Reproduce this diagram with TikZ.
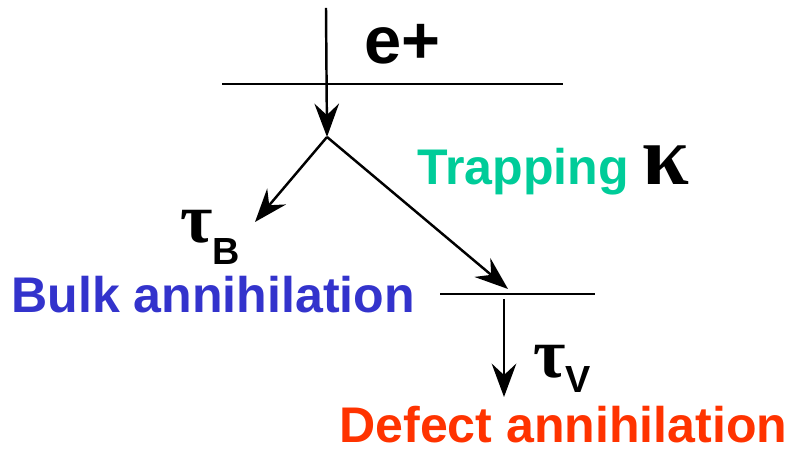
\documentclass[tikz,border=0pt]{standalone}
\usepackage{fontspec}
\setmainfont{Liberation Sans}
\newfontfamily\greekfont{Liberation Serif}
\usepackage{xcolor}
\usetikzlibrary{arrows.meta, positioning}

\definecolor{bulkblue}{RGB}{51,51,204}
\definecolor{defectred}{RGB}{255,51,0}
\definecolor{trapgreen}{RGB}{0,204,153}

\tikzset{
  lbl/.style={inner sep=0pt, anchor=base west, font=\fontsize{28.5}{34}\selectfont\bfseries},
  lvl/.style={line width=1.4pt},
  jump/.style={line width=1.4pt, -{Stealth[length=19pt, width=14pt, inset=6.5pt]}}
}
% tau with a lowered subscript
\newcommand{\lifetime}[2]{{\greekfont\fontsize{40}{44}\selectfont τ}\raisebox{-#2}{\fontsize{21.5}{24}\selectfont #1}}

\begin{document}
\begin{tikzpicture}
    \useasboundingbox (0,0) rectangle (15.92,8.98);
    % 1. Levels
    \coordinate (bulkL) at (4.44,7.30);
    \coordinate (bulkR) at (11.26,7.30);
    \coordinate (trapL) at (8.80,3.10);
    \coordinate (trapR) at (11.90,3.10);
    \draw[lvl] (bulkL) -- (bulkR);
    \draw[lvl] (trapL) -- (trapR);

    % 2. Positron path
    \coordinate (src) at (6.52,8.82);
    \coordinate (apex) at (6.54,6.24);
    \coordinate (bulkend) at (5.10,4.54);
    \coordinate (trapend) at (10.16,3.20);
    \coordinate (vstart) at (10.08,3.00);
    \coordinate (vend) at (10.08,1.04);
    \draw[jump] (src) -- (apex);
    \draw[jump] (apex) -- (bulkend);
    \draw[jump] (apex) -- (trapend);
    \draw[jump] (vstart) -- (vend);

    % 3. Labels
    \node[lbl, font=\fontsize{38}{44}\selectfont\bfseries] (eplus) at (7.28,7.70) {e+};
    \node[lbl] (trapping) at (8.34,5.28) {\textcolor{trapgreen}{Trapping} {\greekfont\fontsize{48}{52}\selectfont κ}};
    \node[lbl] (tauB) at (3.60,4.12) {\lifetime{B}{0.44cm}};
    \node[lbl, bulkblue] (bulk) at (0.22,2.72) {Bulk annihilation};
    \node[lbl] (tauV) at (10.66,1.42) {\lifetime{V}{0.30cm}};
    \node[lbl, defectred] (defect) at (6.78,0.12) {Defect annihilation};
\end{tikzpicture}
\end{document}
